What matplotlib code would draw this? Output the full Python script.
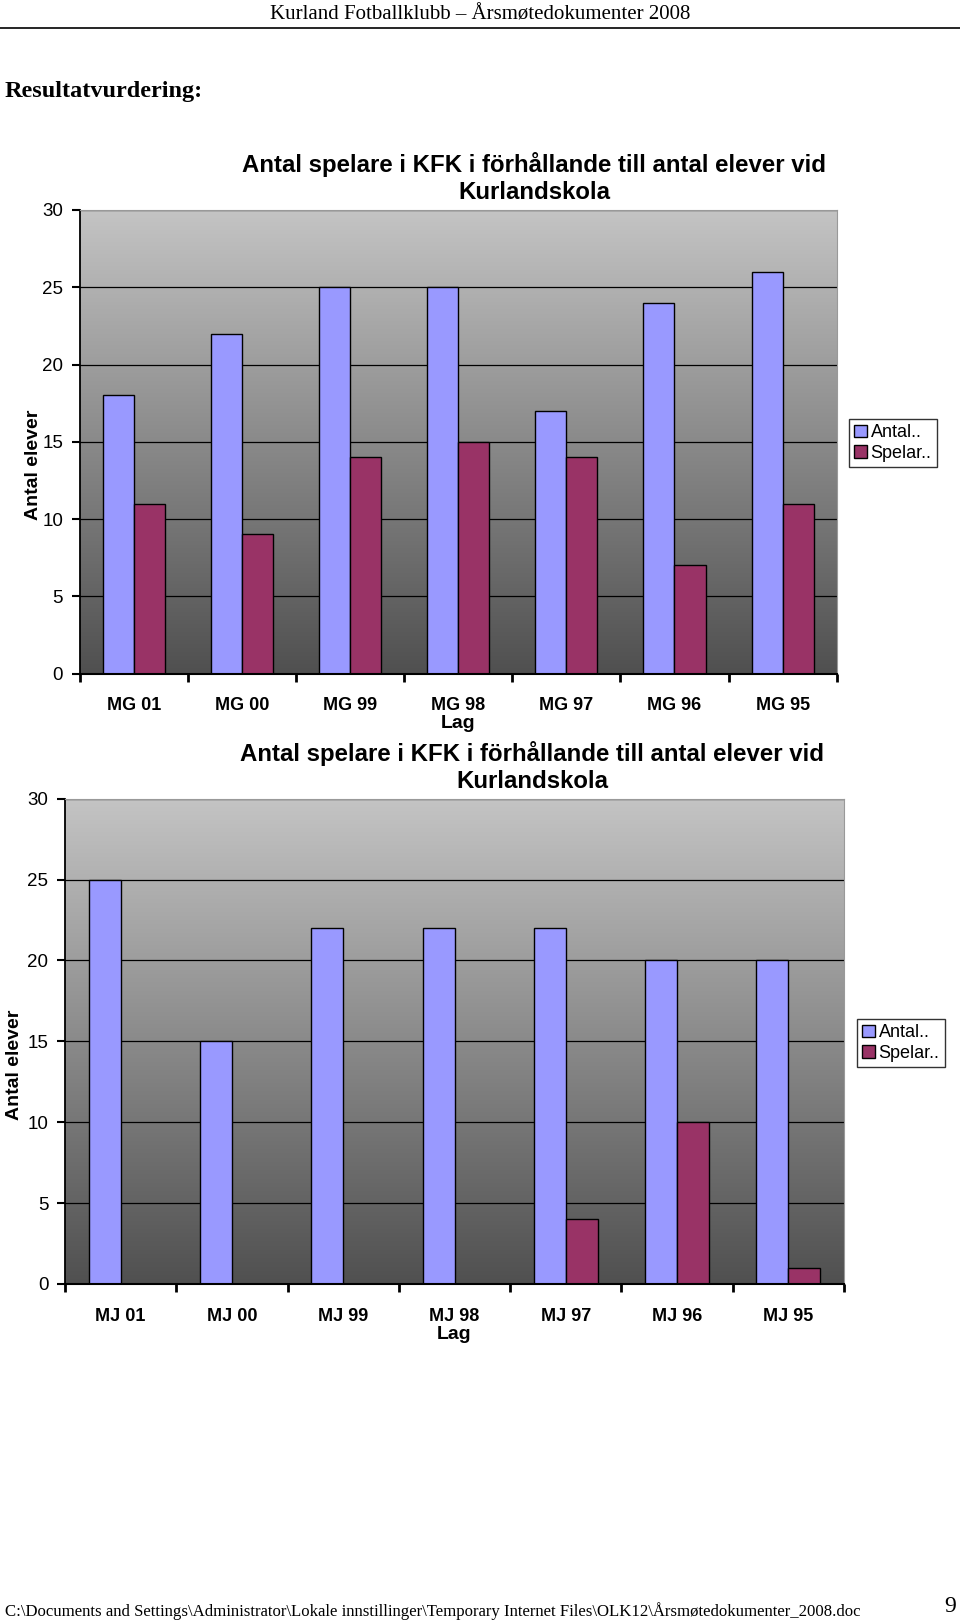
import numpy as np
import matplotlib.pyplot as plt
from matplotlib.patches import Patch
from matplotlib.colors import LinearSegmentedColormap

# data
mg_teams = ['MG 01', 'MG 00', 'MG 99', 'MG 98', 'MG 97', 'MG 96', 'MG 95']
mg_antal = [18, 22, 25, 25, 17, 24, 26]
mg_spelar = [11, 9, 14, 15, 14, 7, 11]

mj_teams = ['MJ 01', 'MJ 00', 'MJ 99', 'MJ 98', 'MJ 97', 'MJ 96', 'MJ 95']
mj_antal = [25, 15, 22, 22, 22, 20, 20]
mj_spelar = [0, 0, 0, 0, 4, 10, 1]

chart_title = 'Antal spelare i KFK i förhållande till antal elever vid\nKurlandskola'
legend_labels = ['Antal..', 'Spelar..']

c_antal = '#9999ff'
c_spelar = '#993366'
W, H = 960, 1622

fig = plt.figure(figsize=(9.6, 16.22), dpi=100)
sans = 'Liberation Sans'
serif = 'Liberation Serif'

# page header / footer
fig.text(480 / W, 1 - 15 / H, 'Kurland Fotballklubb – Årsmøtedokumenter 2008',
         family=serif, fontsize=15, ha='center', va='center')
fig.add_artist(plt.Line2D([0, 1], [1 - 28 / H, 1 - 28 / H], color='black', lw=1.2))
fig.text(5 / W, 1 - 92 / H, 'Resultatvurdering:', family=serif, fontsize=17.5,
         fontweight='bold', ha='left', va='center')
fig.text(5 / W, 1 - 1611 / H,
         'C:\\Documents and Settings\\Administrator\\Lokale innstillinger\\Temporary Internet Files\\OLK12\\Årsmøtedokumenter_2008.doc',
         family=serif, fontsize=12.1, ha='left', va='center')
fig.text(950 / W, 1 - 1607 / H, '9', family=serif, fontsize=17, ha='center', va='center')

bg = LinearSegmentedColormap.from_list('g', ['#505050', '#c4c4c4'])


def draw_chart(rect, teams, antal, spelar, title_y, title_x, ylab_xy, leg_rect):
    ax = fig.add_axes(rect)
    x = np.arange(len(teams))
    w = 0.287
    # gradient background
    grad = np.linspace(0, 1, 256).reshape(-1, 1)
    ax.imshow(grad, extent=[-0.5, len(teams) - 0.5, 0, 30], aspect='auto',
              cmap=bg, origin='lower', zorder=0)
    for yv in range(5, 31, 5):
        ax.axhline(yv, color='black', lw=0.9, zorder=1)
    ax.bar(x - w / 2, antal, w, color=c_antal, edgecolor='black', lw=1, zorder=2)
    ax.bar(x + w / 2, spelar, w, color=c_spelar, edgecolor='black', lw=1, zorder=2)
    ax.set_xlim(-0.5, len(teams) - 0.5)
    ax.set_ylim(0, 30)
    ax.set_yticks(range(0, 31, 5))
    ax.set_yticklabels([str(v) for v in range(0, 31, 5)], family=sans, fontsize=13.5)
    ax.set_xticks(x)
    ax.set_xticklabels(teams, family=sans, fontsize=13, fontweight='bold')
    ax.tick_params(axis='x', length=0, pad=17)
    ax.tick_params(axis='y', length=6, width=1.5, pad=6)
    ax.set_xticks(np.arange(-0.5, len(teams)), minor=True)
    ax.tick_params(axis='x', which='minor', length=6, width=2, direction='out')
    for s in ['top', 'right']:
        ax.spines[s].set_color('#999999')
    ax.spines['left'].set_linewidth(1.3)
    ax.spines['bottom'].set_linewidth(1.5)
    ax.set_xlabel('Lag', family=sans, fontsize=14, fontweight='bold', labelpad=1)
    fig.text(ylab_xy[0] / W, 1 - ylab_xy[1] / H, 'Antal elever', family=sans, fontsize=14,
             fontweight='bold', rotation=90, ha='center', va='center')
    fig.text(title_x / W, 1 - title_y / H, chart_title, family=sans, fontsize=17.3,
             fontweight='bold', ha='center', va='center', linespacing=1.2)
    handles = [Patch(facecolor=c_antal, edgecolor='black'), Patch(facecolor=c_spelar, edgecolor='black')]
    fig.legend(handles, legend_labels, loc='upper left', bbox_to_anchor=leg_rect,
               prop={'family': sans, 'size': 13}, frameon=True, fancybox=False,
               edgecolor='black', handlelength=0.7, handleheight=0.7, handletextpad=0.2,
               borderpad=0.3, labelspacing=0.2, borderaxespad=0)
    return ax


draw_chart([79.7 / W, 1 - 673.5 / H, 757 / W, 463.5 / H], mg_teams, mg_antal, mg_spelar,
           178, 534, (33, 465), (849 / W, 1 - 419 / H))
draw_chart([65 / W, 1 - 1284 / H, 779 / W, 485.4 / H], mj_teams, mj_antal, mj_spelar,
           767, 532, (15, 1065), (857 / W, 1 - 1019 / H))

fig.savefig('out.png', dpi=100)
